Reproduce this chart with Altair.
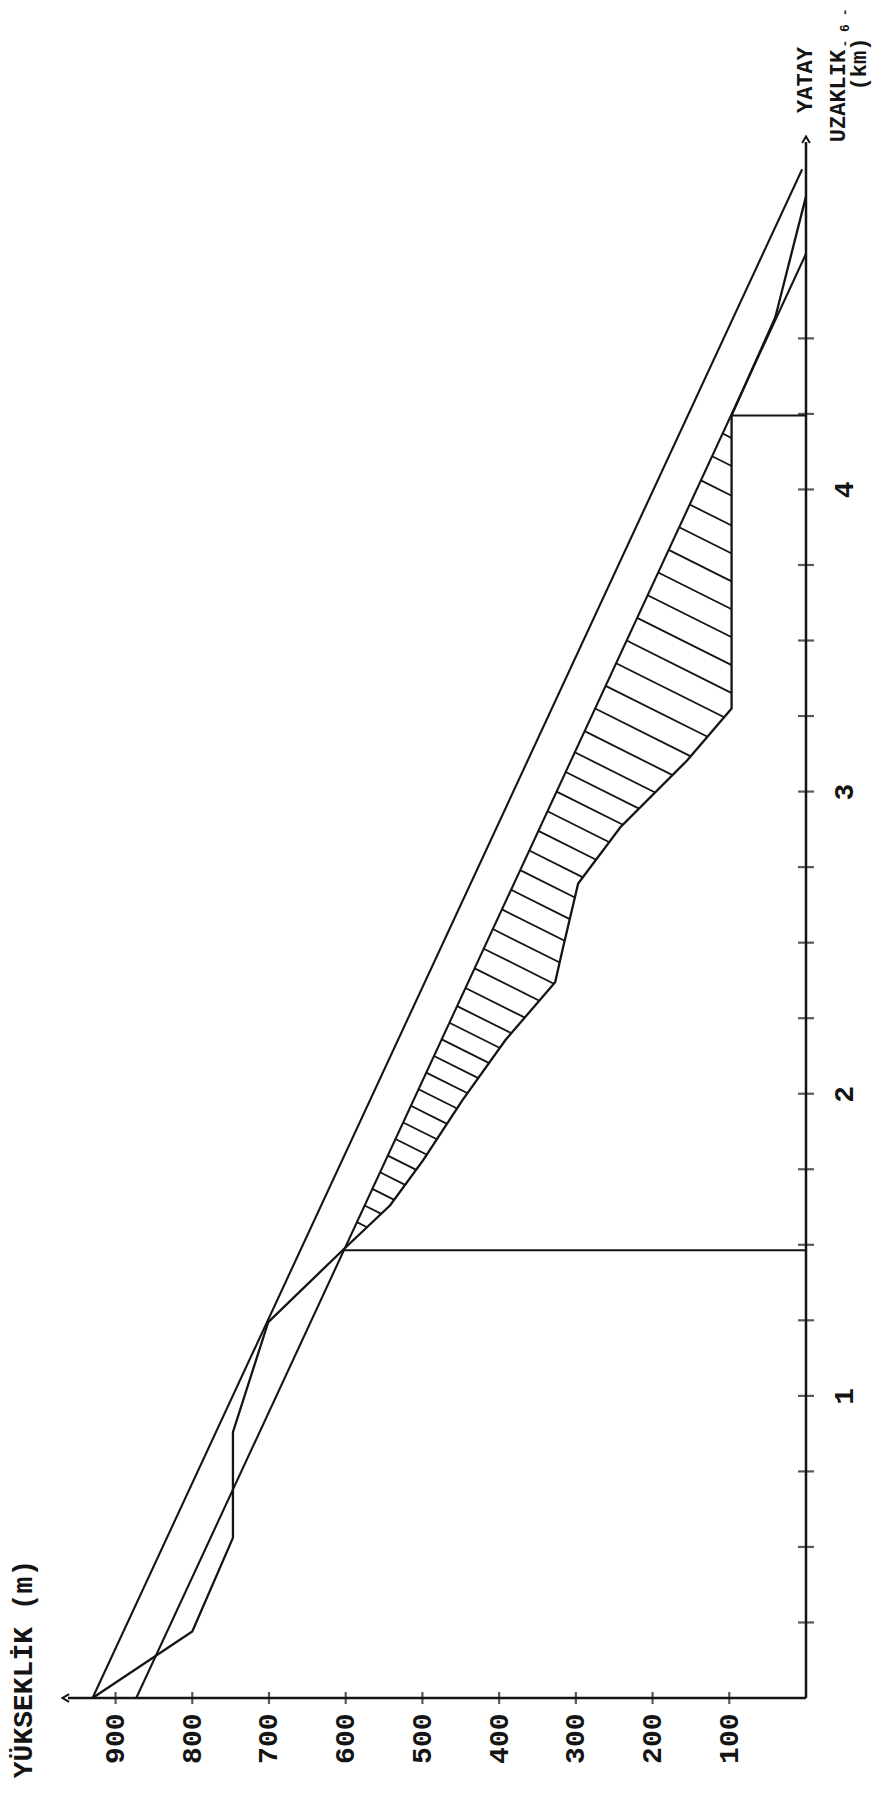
import altair as alt
import numpy as np
import pandas as pd

# ---------------- data ----------------
# terrain profile: distance (km) / elevation (m)
terrain_d = [0.0, 0.22, 0.53, 0.88, 1.244, 1.482, 1.631, 1.78, 1.978, 2.177,
             2.369, 2.481, 2.696, 2.882, 3.103, 3.275, 4.245, 4.57, 4.97]
terrain_e = [930, 800, 747, 747, 701, 604, 542, 499, 448, 392,
             327, 317, 297, 242, 155, 97, 97, 40, 0]

# straight grade lines
lineA_d = [0.0, 5.06]
lineA_e = [930, 5]
lineB_d = [0.0, 4.78]
lineB_e = [873, 0]

# vertical section lines (distance, top elevation)
section_d = [1.482, 4.245]
section_e = [604, 97]

# lower boundary of hatched (cut) zone = terrain between the two sections
low_d = terrain_d[5:17]
low_e = terrain_e[5:17]

# hatch start positions along line B (km)
hatch_start = [1.575, 1.63, 1.685, 1.74, 1.795, 1.85, 1.905, 1.96, 2.015, 2.07,
               2.125, 2.18, 2.235, 2.29, 2.35, 2.415, 2.48, 2.545, 2.61, 2.675,
               2.74, 2.805, 2.87, 2.935, 3.0, 3.065, 3.13, 3.2, 3.275, 3.35,
               3.425, 3.5, 3.575, 3.65, 3.725, 3.8, 3.875, 3.95, 4.03, 4.11, 4.185]

# axes
elev_ticks = [100, 200, 300, 400, 500, 600, 700, 800, 900]
dist_ticks = [0.25, 0.5, 0.75, 1.0, 1.25, 1.5, 1.75, 2.0, 2.25, 2.5, 2.75, 3.0,
              3.25, 3.5, 3.75, 4.0, 4.25, 4.5]
dist_labels = [1, 2, 3, 4]
elev_max = 962
dist_max = 5.15

# ---------------- geometry helpers ----------------
W, H = 738, 1556
px_e = W / elev_max          # px per metre
px_d = H / dist_max          # px per km

hs = []
for d0 in hatch_start:
    eb = float(np.interp(d0, lineB_d, lineB_e))
    t = np.arange(0.5, 500, 0.2)
    e = eb - t / px_e
    d = d0 - 0.5 * t / px_d
    inside = e <= np.interp(d, low_d, low_e)
    if inside.any():
        i = int(np.argmax(inside))
        hs.append({"d": d0, "e": eb, "d2": float(d[i]), "e2": float(e[i])})
hatch_df = pd.DataFrame(hs)

terrain_df = pd.DataFrame({"d": terrain_d, "e": terrain_e, "i": range(len(terrain_d))})
grade_df = pd.DataFrame({
    "d": lineA_d + lineB_d,
    "e": lineA_e + lineB_e,
    "line": ["A", "A", "B", "B"],
})
section_df = pd.DataFrame({"d": section_d, "e": [0, 0], "e2": section_e})
axis_df = pd.DataFrame({"d": [0.0, 0.0], "d2": [0.0, dist_max], "e": [0, 0], "e2": [elev_max, 0]})
etick_df = pd.DataFrame({"e": elev_ticks, "d": [0.0] * len(elev_ticks)})
dtick_df = pd.DataFrame({"d": dist_ticks, "e": [0] * len(dist_ticks)})
arrowL_df = pd.DataFrame({"e": [elev_max], "d": [0.0]})
arrowT_df = pd.DataFrame({"e": [0], "d": [dist_max]})

FONT = "Liberation Mono"
INK = "#141414"
xs = alt.Scale(domain=[0, elev_max], reverse=True, nice=False, zero=False)
ys = alt.Scale(domain=[0, dist_max], nice=False, zero=False)

x_axis = alt.Axis(values=elev_ticks, labelAngle=270, labelAlign="right", labelBaseline="middle",
                  labelPadding=15, labelFont=FONT, labelFontSize=28, labelFontWeight="bold",
                  labelColor=INK, domain=False, ticks=False, grid=False, title=None, labelFlush=False)
y_axis = alt.Axis(values=dist_labels, orient="right", labelAngle=270, labelAlign="center",
                  labelBaseline="top", labelPadding=24, labelFont=FONT, labelFontSize=28,
                  labelFontWeight="bold", labelColor=INK, domain=False, ticks=False, grid=False,
                  title=None, labelFlush=False, format="d")

X = lambda: alt.X("e:Q", scale=xs, axis=x_axis)
Y = lambda: alt.Y("d:Q", scale=ys, axis=y_axis)

hatch = alt.Chart(hatch_df).mark_rule(color=INK, strokeWidth=1.8).encode(
    x=X(), x2="e2:Q", y=Y(), y2="d2:Q")

terrain = alt.Chart(terrain_df).mark_line(color=INK, strokeWidth=2.3).encode(
    x=X(), y=Y(), order="i:Q")

grade = alt.Chart(grade_df).mark_line(color=INK, strokeWidth=2.1).encode(
    x=X(), y=Y(), detail="line:N")

sections = alt.Chart(section_df).mark_rule(color=INK, strokeWidth=2.1).encode(
    x=X(), x2="e2:Q", y=Y())

axes = alt.Chart(axis_df).mark_rule(color=INK, strokeWidth=2.5).encode(
    x=X(), x2="e2:Q", y=Y(), y2="d2:Q")

eticks = alt.Chart(etick_df).mark_tick(color=INK, orient="vertical", size=12, thickness=2.2).encode(
    x=X(), y=Y())
dticks = alt.Chart(dtick_df).mark_tick(color=INK, orient="horizontal", size=16, thickness=2.2).encode(
    x=X(), y=Y())

arrowL = alt.Chart(arrowL_df).mark_point(shape="M0.2,-0.7L-1,0L0.2,0.7", filled=False, size=120,
                                         color=INK, strokeWidth=2, opacity=1).encode(x=X(), y=Y())
arrowT = alt.Chart(arrowT_df).mark_point(shape="M-0.7,0.2L0,-1L0.7,0.2", filled=False, size=120,
                                         color=INK, strokeWidth=2, opacity=1).encode(x=X(), y=Y())


def label(txt, px, py, size=28, weight="bold"):
    return alt.Chart(pd.DataFrame({"t": [txt]})).mark_text(
        font=FONT, fontSize=size, fontWeight=weight, angle=270, align="center",
        baseline="middle", color=INK
    ).encode(text="t:N", x=alt.value(px), y=alt.value(py))


# positions below are relative to the plot area's top-left corner
t_y = label("YÜKSEKLİK  (m)", -44, 1527)
t_x1 = label("YATAY", 737, -62, size=22)
t_x2 = label("UZAKLIK", 770, -46, size=22)
t_x3 = label("(km)", 791, -78, size=22)
t_pg = label("- 6 -", 777, -114, size=13)

chart = alt.layer(
    hatch, terrain, grade, sections, axes, eticks, dticks, arrowL, arrowT,
    t_y, t_x1, t_x2, t_x3, t_pg
).properties(
    width=W, height=H,
    autosize=alt.AutoSizeParams(type="none"),
    padding={"left": 60, "top": 134, "right": 69, "bottom": 86},
).configure(background="white").configure_view(stroke=None)

chart.save("out.html", embed_options={"renderer": "svg", "actions": False})
